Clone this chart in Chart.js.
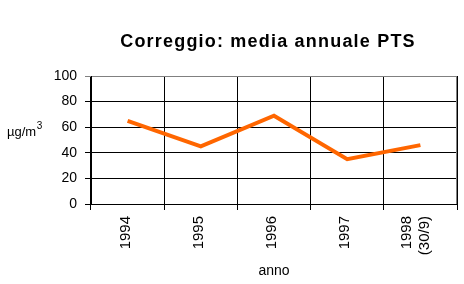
<!DOCTYPE html>
<html>
<head>
<meta charset="utf-8">
<script src="https://cdn.jsdelivr.net/npm/chart.js@4.4.1/dist/chart.umd.min.js"></script>
<style>
  html, body { margin: 0; padding: 0; background: #fff; }
  #wrap { width: 464px; height: 284px; position: relative; }
</style>
</head>
<body>
<div id="wrap"><canvas id="graficoPTS"></canvas></div>
<script>
// dati
const anni = ['1994', '1995', '1996', '1997', ['1998', '(30/9)']];
const mediaPTS = [65, 45, 69, 35, 46];
const yTicks = [0, 20, 40, 60, 80, 100];
const titolo = 'Correggio: media annuale PTS';
const unita = 'µg/m';

Chart.defaults.font.family = "'Liberation Sans', Arial, sans-serif";
Chart.defaults.color = '#000';

// titolo e unità di misura disegnati a mano (testo orizzontale)
const testiExtra = {
  id: 'testiExtra',
  beforeDraw(chart) {
    // centra l'etichetta su due righe (1998 / 30/9) sul suo tick
    const sx = chart.scales.x;
    const items = sx.getLabelItems(chart.chartArea);
    const last = items[items.length - 1];
    if (last && Array.isArray(last.label)) last.textOffset = -3;
  },
  afterDraw(chart) {
    const ctx = chart.ctx;
    ctx.save();
    ctx.fillStyle = '#000';
    ctx.textAlign = 'center';
    ctx.textBaseline = 'alphabetic';
    ctx.font = "bold 18px 'Liberation Sans', Arial, sans-serif";
    ctx.letterSpacing = '1.2px';
    ctx.fillText(titolo, 268, 47);
    ctx.letterSpacing = '0px';

    ctx.textAlign = 'left';
    ctx.font = "13px 'Liberation Sans', Arial, sans-serif";
    ctx.fillText(unita, 7, 136);
    const w = ctx.measureText(unita).width;
    ctx.font = "10px 'Liberation Sans', Arial, sans-serif";
    ctx.fillText('3', 7 + w + 0.5, 129);

    // bordo destro grigio
    const a = chart.chartArea;
    ctx.strokeStyle = '#808080';
    ctx.lineWidth = 1;
    ctx.beginPath();
    ctx.moveTo(a.right - 0.5, a.top);
    ctx.lineTo(a.right - 0.5, a.bottom);
    ctx.stroke();
    ctx.restore();
  }
};

new Chart(document.getElementById('graficoPTS'), {
  type: 'line',
  data: {
    labels: anni,
    datasets: [{
      data: mediaPTS,
      borderColor: '#FF6600',
      borderWidth: 4,
      pointRadius: 0,
      tension: 0,
      fill: false
    }]
  },
  options: {
    responsive: true,
    maintainAspectRatio: false,
    animation: false,
    layout: {
      padding: { top: 76, right: 7, left: 0, bottom: 0 }
    },
    plugins: {
      legend: { display: false },
      title: { display: false },
      tooltip: { enabled: false }
    },
    scales: {
      x: {
        offset: true,
        afterFit(scale) { scale.height = 80; },
        grid: {
          offset: true,
          color: '#000',
          lineWidth: 1,
          tickLength: 6
        },
        border: { color: '#000', width: 1 },
        ticks: {
          font: { size: 15 },
          maxRotation: 90,
          minRotation: 90,
          padding: 6,
          labelOffset: -2,
          autoSkip: false
        },
        title: {
          display: true,
          text: 'anno',
          font: { size: 14 },
          padding: { top: 0, bottom: 4 }
        }
      },
      y: {
        min: 0,
        max: 100,
        afterFit(scale) { scale.width = 91; },
        afterBuildTicks(scale) { scale.ticks = yTicks.map(v => ({ value: v })); },
        grid: {
          color: ctx => (ctx.tick && ctx.tick.value === 100) ? '#808080' : '#000',
          lineWidth: 1,
          tickLength: 6
        },
        border: { color: '#000', width: 1 },
        ticks: {
          font: { size: 14 },
          padding: 8
        }
      }
    }
  },
  plugins: [testiExtra]
});
</script>
</body>
</html>
